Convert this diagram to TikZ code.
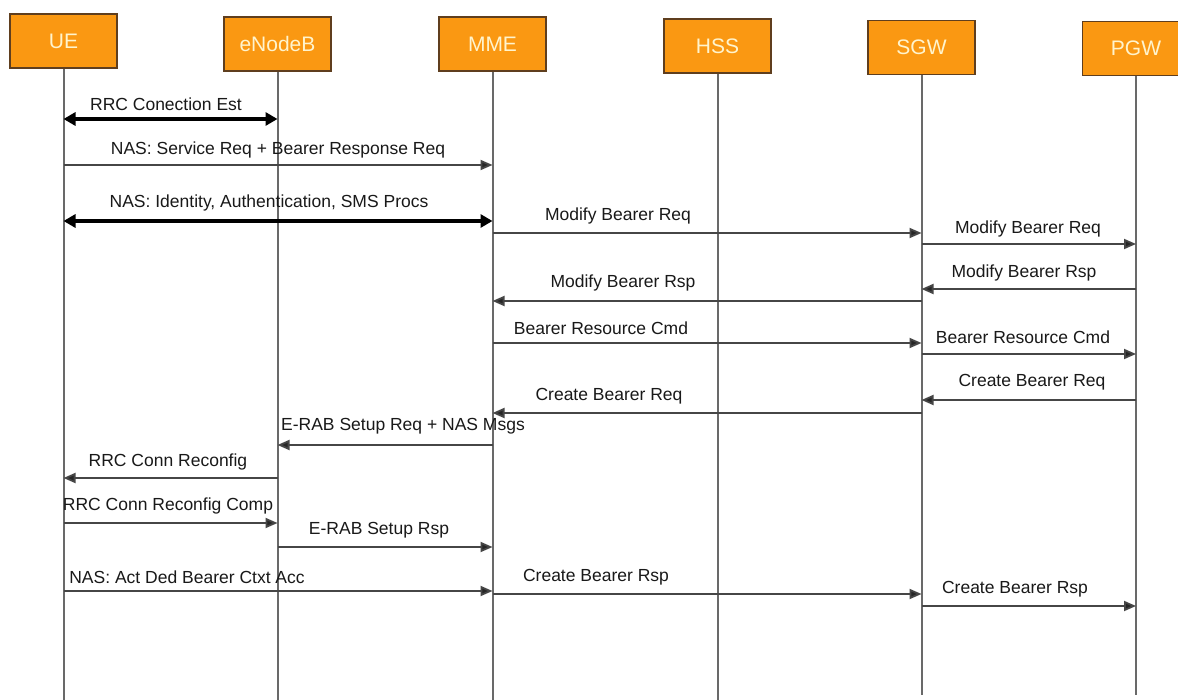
\documentclass[tikz,border=0pt]{standalone}
\usepackage{fontspec}
\setmainfont{Liberation Sans}
\usetikzlibrary{arrows.meta}
\definecolor{boxorange}{RGB}{250,152,18}
\definecolor{boxedge}{RGB}{95,62,30}
\definecolor{boxtext}{RGB}{255,244,205}
\definecolor{lifegray}{RGB}{105,105,105}
\definecolor{msggray}{RGB}{70,70,70}
\begin{document}
\begin{tikzpicture}[x=1pt,y=-1pt,
  entity/.style={draw=boxedge, line width=1.3pt, fill=boxorange, minimum width=107pt,
    minimum height=54pt, text=boxtext, font=\fontsize{21}{24}\selectfont, inner sep=0pt},
  life/.style={draw=lifegray, line width=2pt},
  msg/.style={draw=msggray, line width=1.8pt, -{Triangle[length=12pt,width=10pt,fill=black!85]}},
  bimsg/.style={draw=black, line width=3.6pt,
    {Triangle[length=12pt,width=13pt]}-{Triangle[length=12pt,width=13pt]}},
  lbl/.style={font=\fontsize{17.5}{20}\selectfont, text=black!90, inner sep=0pt}]
\useasboundingbox (0,0) rectangle (1178,700);
\clip (0,0) rectangle (1178,700);
\fill[white] (0,0) rectangle (1178,700);

% entities
\node[entity] (ue)  at (63.5,41)   {UE};
\node[entity] (enb) at (277.5,44)  {eNodeB};
\node[entity] (mme) at (492.5,44)  {MME};
\node[entity] (hss) at (717.5,46)  {HSS};
\node[entity] (sgw) at (921.5,47.5) {SGW};
\node[entity] (pgw) at (1136,48.5) {PGW};

% lifelines
\coordinate (ueend)  at (ue  |- 0,700);
\coordinate (enbend) at (enb |- 0,700);
\coordinate (mmeend) at (mme |- 0,700);
\coordinate (hssend) at (hss |- 0,700);
\coordinate (sgwend) at (sgw |- 0,695);
\coordinate (pgwend) at (pgw |- 0,695);
\draw[life] (ue.south)  -- (ueend);
\draw[life] (enb.south) -- (enbend);
\draw[life] (mme.south) -- (mmeend);
\draw[life] (hss.south) -- (hssend);
\draw[life] (sgw.south) -- (sgwend);
\draw[life] (pgw.south) -- (pgwend);

% messages
\draw[bimsg] (ue |- 0,119) -- (enb |- 0,119);
\node[lbl] (l1) at (166,104) {RRC Conection Est};

\draw[msg] (ue |- 0,165) -- (mme |- 0,165);
\node[lbl] (l2) at (278,150) {NAS: Service Req + Bearer Response Req};

\draw[bimsg] (ue |- 0,221) -- (mme |- 0,221);
\node[lbl] (l3) at (269,203) {NAS: Identity, Authentication, SMS Procs};

\draw[msg] (mme |- 0,233) -- (sgw |- 0,233);
\node[lbl] (l4) at (618,216) {Modify Bearer Req};

\draw[msg] (sgw |- 0,244) -- (pgw |- 0,244);
\node[lbl] (l5) at (1028,229) {Modify Bearer Req};

\draw[msg] (pgw |- 0,289) -- (sgw |- 0,289);
\node[lbl] (l6) at (1024,273) {Modify Bearer Rsp};

\draw[msg] (sgw |- 0,301) -- (mme |- 0,301);
\node[lbl] (l7) at (623,283) {Modify Bearer Rsp};

\draw[msg] (mme |- 0,343) -- (sgw |- 0,343);
\node[lbl] (l8) at (601,328) {Bearer Resource Cmd};

\draw[msg] (sgw |- 0,354) -- (pgw |- 0,354);
\node[lbl] (l9) at (1023,337) {Bearer Resource Cmd};

\draw[msg] (pgw |- 0,400) -- (sgw |- 0,400);
\node[lbl] (l10) at (1032,382) {Create Bearer Req};

\draw[msg] (sgw |- 0,413) -- (mme |- 0,413);
\node[lbl] (l11) at (609,396) {Create Bearer Req};

\draw[msg] (mme |- 0,445) -- (enb |- 0,445);
\node[lbl] (l12) at (403,426) {E-RAB Setup Req + NAS Msgs};

\draw[msg] (enb |- 0,478) -- (ue |- 0,478);
\node[lbl] (l13) at (168,462) {RRC Conn Reconfig};

\draw[msg] (ue |- 0,523) -- (enb |- 0,523);
\node[lbl] (l14) at (168,506) {RRC Conn Reconfig Comp};

\draw[msg] (enb |- 0,547) -- (mme |- 0,547);
\node[lbl] (l15) at (379,530) {E-RAB Setup Rsp};

\draw[msg] (ue |- 0,591) -- (mme |- 0,591);
\node[lbl] (l16) at (187,577) {NAS: Act Ded Bearer Ctxt Acc};

\draw[msg] (mme |- 0,594) -- (sgw |- 0,594);
\node[lbl] (l17) at (596,577) {Create Bearer Rsp};

\draw[msg] (sgw |- 0,606) -- (pgw |- 0,606);
\node[lbl] (l18) at (1015,589) {Create Bearer Rsp};
\end{tikzpicture}
\end{document}
